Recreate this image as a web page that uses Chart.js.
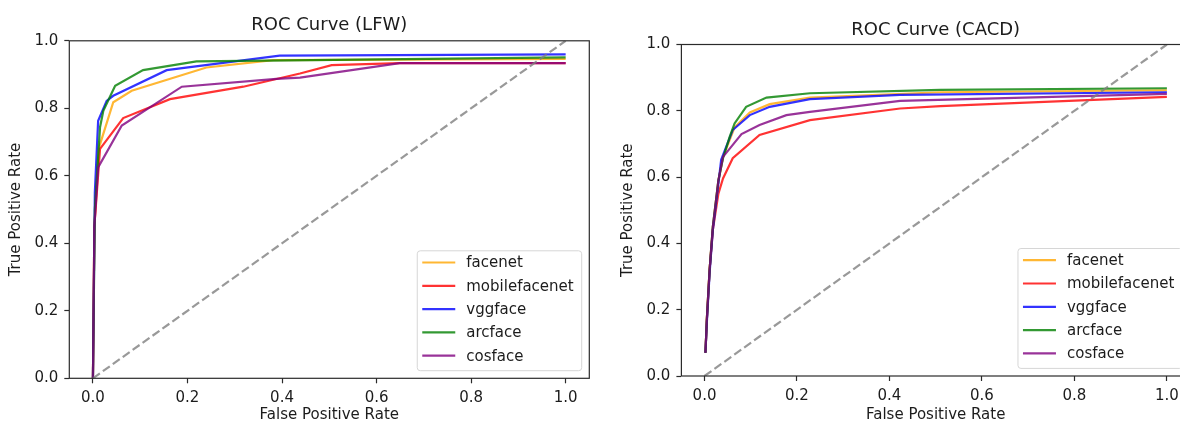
<!DOCTYPE html>
<html>
<head>
<meta charset="utf-8">
<script src="https://cdn.jsdelivr.net/npm/chart.js@4/dist/chart.umd.min.js"></script>
<style>
  html, body { margin: 0; padding: 0; background: #fff; overflow: hidden; width: 1180px; height: 425px; }
  canvas.panel { position: absolute; top: 0; }
  #lfw { left: 0; }
  #cacd { left: 600px; }
</style>
</head>
<body>
<canvas id="lfw" class="panel" width="600" height="425"></canvas>
<canvas id="cacd" class="panel" width="600" height="425"></canvas>
<script>
// ---- data -------------------------------------------------------------
const models = ['facenet', 'mobilefacenet', 'vggface', 'arcface', 'cosface'];
const xTicks = [0.0, 0.2, 0.4, 0.6, 0.8, 1.0];
const yTicks = [0.0, 0.2, 0.4, 0.6, 0.8, 1.0];
const chanceFpr = [0, 1];
const chanceTpr = [0, 1];

// LFW
const lfwFacenetFpr = [0, 0.003, 0.012, 0.043, 0.082, 0.24, 0.381, 1.0];
const lfwFacenetTpr = [0, 0.45, 0.68, 0.818, 0.852, 0.921, 0.943, 0.946];
const lfwMobileFpr  = [0, 0.003, 0.015, 0.064, 0.163, 0.318, 0.438, 0.505, 0.649, 1.0];
const lfwMobileTpr  = [0, 0.45, 0.68, 0.771, 0.827, 0.864, 0.903, 0.928, 0.934, 0.934];
const lfwVggFpr     = [0, 0.004, 0.011, 0.029, 0.043, 0.156, 0.395, 1.0];
const lfwVggTpr     = [0, 0.55, 0.763, 0.822, 0.837, 0.913, 0.956, 0.96];
const lfwArcFpr     = [0, 0.004, 0.015, 0.022, 0.047, 0.106, 0.219, 1.0];
const lfwArcTpr     = [0, 0.5, 0.744, 0.793, 0.867, 0.913, 0.939, 0.951];
const lfwCosFpr     = [0, 0.003, 0.011, 0.061, 0.188, 0.388, 0.438, 0.649, 1.0];
const lfwCosTpr     = [0, 0.45, 0.625, 0.749, 0.864, 0.887, 0.891, 0.934, 0.934];

// CACD
const cacdFacenetFpr = [0.002, 0.005, 0.011, 0.018, 0.03, 0.04, 0.065, 0.098, 0.141, 0.228, 0.51, 1.0];
const cacdFacenetTpr = [0.07, 0.17, 0.32, 0.45, 0.59, 0.66, 0.75, 0.795, 0.82, 0.84, 0.856, 0.862];
const cacdMobileFpr  = [0.002, 0.005, 0.011, 0.018, 0.03, 0.04, 0.061, 0.119, 0.228, 0.423, 0.51, 1.0];
const cacdMobileTpr  = [0.07, 0.17, 0.32, 0.44, 0.55, 0.596, 0.657, 0.727, 0.772, 0.807, 0.814, 0.842];
const cacdVggFpr     = [0.002, 0.005, 0.011, 0.018, 0.03, 0.036, 0.061, 0.098, 0.141, 0.228, 0.423, 1.0];
const cacdVggTpr     = [0.07, 0.16, 0.31, 0.44, 0.58, 0.652, 0.742, 0.787, 0.812, 0.835, 0.848, 0.856];
const cacdArcFpr     = [0.002, 0.005, 0.011, 0.018, 0.03, 0.04, 0.054, 0.065, 0.09, 0.134, 0.228, 0.51, 1.0];
const cacdArcTpr     = [0.07, 0.17, 0.32, 0.45, 0.59, 0.657, 0.72, 0.762, 0.812, 0.84, 0.853, 0.863, 0.868];
const cacdCosFpr     = [0.002, 0.005, 0.011, 0.018, 0.03, 0.04, 0.08, 0.119, 0.177, 0.228, 0.423, 1.0];
const cacdCosTpr     = [0.07, 0.17, 0.32, 0.45, 0.59, 0.661, 0.73, 0.757, 0.787, 0.797, 0.83, 0.851];

// ---- styling ----------------------------------------------------------
const modelColors = ['rgba(255,165,0,0.8)', 'rgba(255,0,0,0.8)', 'rgba(0,0,255,0.8)',
                     'rgba(0,128,0,0.8)', 'rgba(128,0,128,0.8)'];
const FONT = '"DejaVu Sans", "Liberation Sans", sans-serif';
const INK = '#1c1c1c';
const LINE_W = 2.2;

// Axes frame (all four spines) and a boxed legend in the lower-right corner.
const frameAndKey = {
  id: 'frameAndKey',
  afterDatasetsDraw(chart, args, opts) {
    const ctx = chart.ctx;
    const a = chart.chartArea;
    ctx.save();
    ctx.strokeStyle = '#2b2b2b';
    ctx.lineWidth = 1.2;
    ctx.strokeRect(a.left, a.top, a.right - a.left, a.bottom - a.top);

    const items = chart.data.datasets.filter(d => d.label);
    ctx.font = '15px ' + FONT;
    const maxW = Math.max(...items.map(d => ctx.measureText(d.label).width));
    const padL = 5, handle = 33, gap = 11, padR = 8, padT = 11.7, padB = 15, rowH = 23.3;
    const w = padL + handle + gap + maxW + padR;
    const h = padT + rowH * (items.length - 1) + padB;
    const right = a.right - opts.inset;
    const bottom = a.bottom - opts.inset;
    const left = right - w, top = bottom - h;
    const r = 3;
    ctx.beginPath();
    ctx.moveTo(left + r, top);
    ctx.arcTo(right, top, right, bottom, r);
    ctx.arcTo(right, bottom, left, bottom, r);
    ctx.arcTo(left, bottom, left, top, r);
    ctx.arcTo(left, top, right, top, r);
    ctx.closePath();
    ctx.fillStyle = 'rgba(255,255,255,0.8)';
    ctx.fill();
    ctx.strokeStyle = '#d6d6d6';
    ctx.lineWidth = 1;
    ctx.stroke();

    items.forEach((d, i) => {
      const y = top + padT + i * rowH;
      ctx.beginPath();
      ctx.moveTo(left + padL, y);
      ctx.lineTo(left + padL + handle, y);
      ctx.strokeStyle = d.borderColor;
      ctx.lineWidth = LINE_W;
      ctx.stroke();
      ctx.fillStyle = INK;
      ctx.textAlign = 'left';
      ctx.textBaseline = 'middle';
      ctx.fillText(d.label, left + padL + handle + gap, y + 1);
    });
    ctx.restore();
  }
};

function toPoints(xs, ys) {
  return xs.map((x, k) => ({ x: x, y: ys[k] }));
}

function rocPanel(canvasId, title, fprs, tprs, geo) {
  const datasets = models.map((name, i) => ({
    label: name,
    data: toPoints(fprs[i], tprs[i]),
    borderColor: modelColors[i],
    backgroundColor: modelColors[i],
    borderWidth: LINE_W,
    showLine: true,
    pointRadius: 0,
    tension: 0,
    fill: false,
    order: models.length - i
  }));
  datasets.push({
    label: '',
    data: toPoints(chanceFpr, chanceTpr),
    borderColor: 'rgba(128,128,128,0.8)',
    borderDash: [8.5, 3.7],
    borderWidth: LINE_W,
    showLine: true,
    pointRadius: 0,
    fill: false,
    order: 0
  });

  const tickFont = { family: FONT, size: 15, lineHeight: 1.2 };
  return new Chart(document.getElementById(canvasId), {
    type: 'scatter',
    data: { datasets },
    plugins: [frameAndKey],
    options: {
      responsive: false,
      animation: false,
      devicePixelRatio: 1,
      layout: { padding: { left: 0, top: 0, right: geo.padRight, bottom: 0 } },
      plugins: {
        legend: { display: false },
        tooltip: { enabled: false },
        title: {
          display: true,
          fullSize: false,
          text: title,
          color: INK,
          font: { family: FONT, size: 18, weight: 'normal', lineHeight: 1.2 },
          padding: { top: geo.titleTop, bottom: geo.titleBottom }
        },
        frameAndKey: { inset: 7.6 }
      },
      scales: {
        x: {
          type: 'linear',
          min: -0.05,
          max: 1.05,
          afterBuildTicks: s => { s.ticks = xTicks.map(v => ({ value: v })); },
          afterFit: s => { s.height = geo.xAxisHeight; },
          ticks: { callback: v => v.toFixed(1), color: INK, font: tickFont, padding: 6, maxRotation: 0, autoSkip: false },
          grid: { drawOnChartArea: false, drawTicks: true, tickLength: 5, tickColor: '#2b2b2b', tickWidth: 1.2 },
          border: { display: false },
          title: { display: true, text: 'False Positive Rate', color: INK, font: tickFont, padding: { top: 0, bottom: geo.xTitleBottom } }
        },
        y: {
          type: 'linear',
          min: 0,
          max: 1,
          afterBuildTicks: s => { s.ticks = yTicks.map(v => ({ value: v })); },
          afterFit: s => { s.width = geo.yAxisWidth; },
          ticks: { callback: v => v.toFixed(1), color: INK, font: tickFont, padding: 6, autoSkip: false },
          grid: { drawOnChartArea: false, drawTicks: true, tickLength: 5, tickColor: '#2b2b2b', tickWidth: 1.2 },
          border: { display: false },
          title: { display: true, text: 'True Positive Rate', color: INK, font: tickFont, padding: { top: geo.yTitleLeft, bottom: 0 } }
        }
      }
    }
  });
}

rocPanel('lfw', 'ROC Curve (LFW)',
  [lfwFacenetFpr, lfwMobileFpr, lfwVggFpr, lfwArcFpr, lfwCosFpr],
  [lfwFacenetTpr, lfwMobileTpr, lfwVggTpr, lfwArcTpr, lfwCosTpr],
  { padRight: 10.7, titleTop: 15, titleBottom: 4.2, xAxisHeight: 46.7, yAxisWidth: 69.3, xTitleBottom: 1.2, yTitleLeft: 7.5 });

rocPanel('cacd', 'ROC Curve (CACD)',
  [cacdFacenetFpr, cacdMobileFpr, cacdVggFpr, cacdArcFpr, cacdCosFpr],
  [cacdFacenetTpr, cacdMobileTpr, cacdVggTpr, cacdArcTpr, cacdCosTpr],
  { padRight: 10, titleTop: 19.3, titleBottom: 3.6, xAxisHeight: 49, yAxisWidth: 81.4, xTitleBottom: 1.2, yTitleLeft: 19.5 });
</script>
</body>
</html>
